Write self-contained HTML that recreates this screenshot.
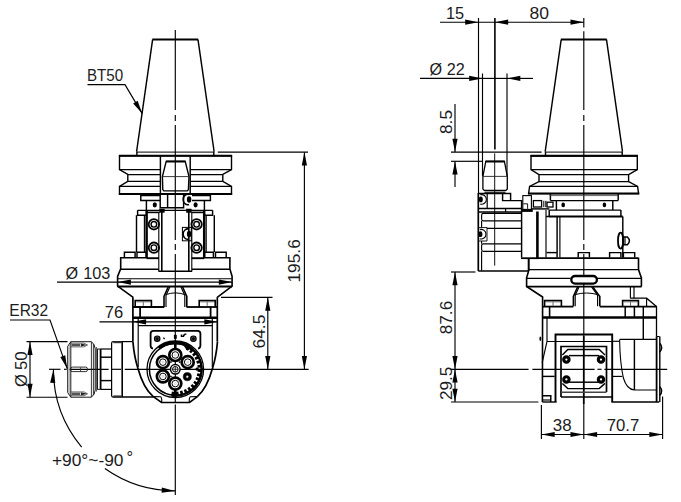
<!DOCTYPE html>
<html lang="en">
<head>
<meta charset="utf-8">
<title>Angle head dimensional drawing BT50 ER32</title>
<style>
html,body{margin:0;padding:0;background:#fff;}
body{width:681px;height:502px;overflow:hidden;font-family:"Liberation Sans",sans-serif;}
svg{display:block;}
svg text{font-family:"Liberation Sans",sans-serif;}
</style>
</head>
<body>
<svg width="681" height="502" viewBox="0 0 681 502" role="img" aria-label="Angle head dimensional drawing, front and side views">
<rect x="0" y="0" width="681" height="502" fill="#fff"/>
<g id="left-view">
<line x1="175.3" y1="30" x2="175.3" y2="110" stroke="#000" stroke-width="1.15" />
<line x1="175.3" y1="115" x2="175.3" y2="121" stroke="#000" stroke-width="1.15" />
<line x1="175.3" y1="125" x2="175.3" y2="240" stroke="#000" stroke-width="1.15" />
<line x1="175.3" y1="244" x2="175.3" y2="250" stroke="#000" stroke-width="1.15" />
<line x1="175.3" y1="254" x2="175.3" y2="402.5" stroke="#000" stroke-width="1.15" />
<line x1="175.3" y1="404.5" x2="175.3" y2="495" stroke="#000" stroke-width="1.15" />
<line x1="49" y1="369.3" x2="60.5" y2="369.3" stroke="#000" stroke-width="1.15" />
<line x1="64" y1="369.3" x2="66.8" y2="369.3" stroke="#000" stroke-width="1.15" />
<line x1="69.5" y1="369.3" x2="108.6" y2="369.3" stroke="#000" stroke-width="1.15" />
<line x1="111.8" y1="369.3" x2="121.2" y2="369.3" stroke="#000" stroke-width="1.15" />
<line x1="124.8" y1="369.3" x2="214" y2="369.3" stroke="#000" stroke-width="1.15" />
<line x1="152.3" y1="39.5" x2="198.2" y2="39.5" stroke="#000" stroke-width="2.0" />
<line x1="152.6" y1="39.6" x2="136.6" y2="151.5" stroke="#000" stroke-width="1.45" />
<line x1="198" y1="39.6" x2="214.1" y2="151.5" stroke="#000" stroke-width="1.45" />
<line x1="136.6" y1="152.1" x2="214.1" y2="152.1" stroke="#000" stroke-width="1.0" />
<line x1="136.9" y1="151.5" x2="136.9" y2="155.7" stroke="#000" stroke-width="1.45" />
<line x1="213.8" y1="151.5" x2="213.8" y2="155.7" stroke="#000" stroke-width="1.45" />
<path d="M119.5,155.9 L231.5,155.9 L231.5,169.5 L222.8,174.5 L222.8,181.4 L231.5,186.4 L231.5,194.2 L119.5,194.2 L119.5,186.4 L127.8,181.4 L127.8,174.5 L119.5,169.5 Z" stroke="#000" stroke-width="1.4" fill="none" />
<line x1="118.9" y1="155.8" x2="232.1" y2="155.8" stroke="#000" stroke-width="2.0" />
<line x1="118.9" y1="194.1" x2="232.1" y2="194.1" stroke="#000" stroke-width="2.0" />
<line x1="119.5" y1="169.5" x2="160.4" y2="169.5" stroke="#000" stroke-width="1.25" />
<line x1="190.2" y1="169.5" x2="231.5" y2="169.5" stroke="#000" stroke-width="1.25" />
<line x1="127.8" y1="174.5" x2="160.4" y2="174.5" stroke="#000" stroke-width="1.25" />
<line x1="190.2" y1="174.5" x2="222.8" y2="174.5" stroke="#000" stroke-width="1.25" />
<line x1="127.8" y1="181.4" x2="160.4" y2="181.4" stroke="#000" stroke-width="1.25" />
<line x1="190.2" y1="181.4" x2="222.8" y2="181.4" stroke="#000" stroke-width="1.25" />
<line x1="119.5" y1="186.4" x2="160.4" y2="186.4" stroke="#000" stroke-width="1.25" />
<line x1="190.2" y1="186.4" x2="231.5" y2="186.4" stroke="#000" stroke-width="1.25" />
<line x1="160.4" y1="155.9" x2="160.4" y2="193.8" stroke="#000" stroke-width="1.45" />
<line x1="190.2" y1="155.9" x2="190.2" y2="193.8" stroke="#000" stroke-width="1.45" />
<path d="M166.2,161.4 L185.2,161.4 L189,176.6 L188.4,189.6 L187.2,190.9 L163.8,190.9 L162.8,189.6 L162.4,176.6 Z" stroke="#000" stroke-width="1.4" fill="none" />
<line x1="166" y1="161.5" x2="185.4" y2="161.5" stroke="#000" stroke-width="2.0" />
<line x1="162.4" y1="176.6" x2="189" y2="176.6" stroke="#222" stroke-width="0.9" />
<path d="M160.2,195.4 L140.8,195.4 L140.8,200.5 L160.2,200.5" stroke="#000" stroke-width="1.45" fill="none" />
<path d="M192,195.4 L210.4,195.4 L210.4,200.5 L192,200.5" stroke="#000" stroke-width="1.45" fill="none" />
<line x1="146.4" y1="200.5" x2="146.4" y2="210" stroke="#000" stroke-width="1.45" />
<line x1="204.4" y1="200.5" x2="204.4" y2="210" stroke="#000" stroke-width="1.45" />
<path d="M160.2,193.8 L160.2,207.8 L183.6,207.8 L183.6,193.8" stroke="#000" stroke-width="1.45" fill="none" />
<line x1="167.6" y1="193.8" x2="167.6" y2="207.8" stroke="#000" stroke-width="1.45" />
<ellipse cx="154.8" cy="204.8" rx="2.1" ry="2.6" fill="#000"/>
<ellipse cx="195.6" cy="204.8" rx="2.1" ry="2.6" fill="#000"/>
<path d="M189.0,194.5 A4.6,5.2 0 1 0 189.0,204.5" stroke="#000" stroke-width="1.5" fill="none" />
<ellipse cx="189.1" cy="199.5" rx="2.2" ry="3.3" fill="#000"/>
<rect x="182.4" y="227.4" width="8.9" height="13.4" rx="0" stroke="#000" stroke-width="1.0" fill="none"/>
<path d="M189.0,229.1 A4.6,5.2 0 1 0 189.0,239.1" stroke="#000" stroke-width="1.5" fill="none" />
<ellipse cx="189.1" cy="234.1" rx="2.2" ry="3.3" fill="#000"/>
<line x1="137.6" y1="210.4" x2="212.6" y2="210.4" stroke="#000" stroke-width="1.3" />
<line x1="146.4" y1="212.4" x2="159.4" y2="212.4" stroke="#000" stroke-width="1.6" />
<line x1="191.2" y1="212.4" x2="204.4" y2="212.4" stroke="#000" stroke-width="1.6" />
<rect x="159.6" y="209" width="4.8" height="3.4" rx="0" stroke="#000" stroke-width="0.5" fill="#000"/>
<rect x="186.4" y="209" width="4.8" height="3.4" rx="0" stroke="#000" stroke-width="0.5" fill="#000"/>
<path d="M137.6,210.2 L137.6,215.2 L146.4,215.2" stroke="#000" stroke-width="1.45" fill="none" />
<path d="M212.6,210.2 L212.6,215.2 L204.2,215.2" stroke="#000" stroke-width="1.45" fill="none" />
<line x1="136.5" y1="215.2" x2="136.5" y2="252" stroke="#000" stroke-width="1.45" />
<line x1="214.3" y1="215.2" x2="214.3" y2="252" stroke="#000" stroke-width="1.45" />
<line x1="146.6" y1="210" x2="146.6" y2="258" stroke="#000" stroke-width="2.5" />
<line x1="204.2" y1="210" x2="204.2" y2="258" stroke="#000" stroke-width="2.5" />
<line x1="146.4" y1="258.2" x2="159" y2="258.2" stroke="#000" stroke-width="1.9" />
<line x1="191.6" y1="258.2" x2="204.4" y2="258.2" stroke="#000" stroke-width="1.9" />
<line x1="144.4" y1="216" x2="144.4" y2="252" stroke="#000" stroke-width="1.15" />
<line x1="206.2" y1="216" x2="206.2" y2="252" stroke="#000" stroke-width="1.15" />
<line x1="158.8" y1="212" x2="158.8" y2="271" stroke="#000" stroke-width="1.1" />
<line x1="161.8" y1="212" x2="161.8" y2="271" stroke="#000" stroke-width="1.6" />
<line x1="188.8" y1="212" x2="188.8" y2="271" stroke="#000" stroke-width="1.6" />
<line x1="191.8" y1="212" x2="191.8" y2="271" stroke="#000" stroke-width="1.1" />
<circle cx="153.9" cy="224.3" r="5.2" stroke="#000" stroke-width="1.8" fill="none"/>
<circle cx="153.9" cy="224.3" r="2.8" stroke="#000" stroke-width="1.4" fill="none"/>
<circle cx="153.9" cy="247.7" r="5.2" stroke="#000" stroke-width="1.8" fill="none"/>
<circle cx="153.9" cy="247.7" r="2.8" stroke="#000" stroke-width="1.4" fill="none"/>
<circle cx="196.6" cy="224.3" r="5.2" stroke="#000" stroke-width="1.8" fill="none"/>
<circle cx="196.6" cy="224.3" r="2.8" stroke="#000" stroke-width="1.4" fill="none"/>
<circle cx="196.6" cy="247.7" r="5.2" stroke="#000" stroke-width="1.8" fill="none"/>
<circle cx="196.6" cy="247.7" r="2.8" stroke="#000" stroke-width="1.4" fill="none"/>
<path d="M124.4,257.6 L124.4,252.2 L135.1,252.2 L135.1,257.6" stroke="#000" stroke-width="1.45" fill="none" />
<path d="M137,257.6 L137,252.2 L146.4,252.2 L146.4,257.6" stroke="#000" stroke-width="1.45" fill="none" />
<path d="M204.4,257.6 L204.4,252.2 L213.4,252.2 L213.4,257.6" stroke="#000" stroke-width="1.45" fill="none" />
<path d="M215.5,257.6 L215.5,252.2 L226.2,252.2 L226.2,257.6" stroke="#000" stroke-width="1.45" fill="none" />
<path d="M146.4,257.8 L120.7,257.8 L120.7,268.9 L117.6,276.4 L117.6,286.2 L133.2,297.4" stroke="#000" stroke-width="1.6" fill="none" />
<path d="M204.4,257.8 L229.9,257.8 L229.9,268.9 L232.1,276.4 L232.1,286.2 L217.2,297.4" stroke="#000" stroke-width="1.6" fill="none" />
<line x1="120.7" y1="269.2" x2="158.8" y2="269.2" stroke="#000" stroke-width="1.45" />
<line x1="191.8" y1="269.2" x2="229.9" y2="269.2" stroke="#000" stroke-width="1.45" />
<line x1="158.4" y1="271.3" x2="192.2" y2="271.3" stroke="#000" stroke-width="1.6" />
<line x1="118" y1="278.7" x2="231.8" y2="278.7" stroke="#000" stroke-width="1.15" />
<line x1="117.6" y1="286.5" x2="232.1" y2="286.5" stroke="#000" stroke-width="1.8" />
<path d="M168.2,287 L164,296.4 L164,306.9" stroke="#000" stroke-width="1.6" fill="none" />
<path d="M182.6,287 L186.8,296.4 L186.8,306.9" stroke="#000" stroke-width="1.6" fill="none" />
<path d="M169.8,287 L166,295.4 L166,306.9" stroke="#000" stroke-width="1.15" fill="none" />
<path d="M181,287 L184.8,295.4 L184.8,306.9" stroke="#000" stroke-width="1.15" fill="none" />
<path d="M166,294.6 Q175.4,291.2 184.8,294.6" stroke="#000" stroke-width="1.0" fill="none" />
<path d="M164.3,307 L132.8,307" stroke="#000" stroke-width="1.8" fill="none" />
<path d="M186.5,307 L217.6,307" stroke="#000" stroke-width="1.8" fill="none" />
<path d="M135.2,306.9 L135.2,300.6 L151.4,300.6 L151.4,306.9" stroke="#000" stroke-width="1.6" fill="none" />
<line x1="143.3" y1="301.6" x2="143.3" y2="305.8" stroke="#444" stroke-width="0.8" />
<line x1="136.39999999999998" y1="302.3" x2="150.20000000000002" y2="302.3" stroke="#888" stroke-width="0.5" />
<path d="M199.2,306.9 L199.2,300.6 L215.2,300.6 L215.2,306.9" stroke="#000" stroke-width="1.6" fill="none" />
<line x1="207.2" y1="301.6" x2="207.2" y2="305.8" stroke="#444" stroke-width="0.8" />
<line x1="200.39999999999998" y1="302.3" x2="214.0" y2="302.3" stroke="#888" stroke-width="0.5" />
<line x1="132.9" y1="297.2" x2="132.9" y2="341.6" stroke="#000" stroke-width="1.7" />
<line x1="217.3" y1="297.2" x2="217.3" y2="341.6" stroke="#000" stroke-width="1.7" />
<line x1="140.1" y1="306.9" x2="140.1" y2="317.4" stroke="#000" stroke-width="1.8" />
<line x1="210.6" y1="306.9" x2="210.6" y2="317.4" stroke="#000" stroke-width="1.8" />
<line x1="132.8" y1="317.7" x2="217.6" y2="317.7" stroke="#000" stroke-width="2.4" />
<line x1="138.2" y1="325.6" x2="212.4" y2="325.6" stroke="#000" stroke-width="1.15" />
<path d="M132.9,341.6 C133.8,352 135.6,361 137.8,368 C141,379.5 146,390.6 153.3,396.6" stroke="#000" stroke-width="1.7" fill="none" />
<path d="M217.5,341.6 C216.6,352 214.8,361 212.6,368 C209.4,379.5 204.4,390.6 197.3,396.6" stroke="#000" stroke-width="1.7" fill="none" />
<line x1="138.2" y1="318" x2="138.2" y2="367" stroke="#000" stroke-width="1.15" />
<line x1="212.3" y1="318" x2="212.3" y2="367" stroke="#000" stroke-width="1.15" />
<path d="M153.3,396.6 L161.5,402.5 L189.6,402.5 L197.3,396.6" stroke="#000" stroke-width="1.7" fill="none" />
<path d="M153.3,396.6 L160.6,396.8 Q162,397.5 161.7,402.3" stroke="#000" stroke-width="1.15" fill="none" />
<path d="M197.3,396.6 L190.4,396.8 Q189,397.5 189.3,402.3" stroke="#000" stroke-width="1.15" fill="none" />
<path d="M153,348.6 Q150.6,348.2 150.6,345.6 L150.6,333.6 Q150.6,330.8 153.4,330.8 L197.6,330.8 Q200.4,330.8 200.4,333.6 L200.4,345.6 Q200.4,348.2 198,348.6" stroke="#000" stroke-width="1.8" fill="none" />
<circle cx="157.2" cy="338.7" r="2.7" stroke="#000" stroke-width="1.2" fill="#666"/>
<circle cx="157.2" cy="338.7" r="1.2" stroke="#000" stroke-width="0.5" fill="#000"/>
<circle cx="193.4" cy="338.7" r="2.7" stroke="#000" stroke-width="1.2" fill="#666"/>
<circle cx="193.4" cy="338.7" r="1.2" stroke="#000" stroke-width="0.5" fill="#000"/>
<path d="M163.4,337.6 l1.2,1.6 M181.4,334.4 l0,2 l2,0 l0,-2 M183.6,336 l1.4,-1.8 l1.4,0" stroke="#000" stroke-width="1.3" fill="none" />
<rect x="174.1" y="335" width="2.5" height="3.8" rx="0" stroke="#000" stroke-width="0.4" fill="#000"/>
<circle cx="175.3" cy="369.3" r="28.3" stroke="#000" stroke-width="1.3" fill="none"/>
<circle cx="175.3" cy="369.3" r="25.9" stroke="#000" stroke-width="1.5" fill="none"/>
<path d="M158.92,348.34 A26.6,26.6 0 0 1 189.4,346.74" stroke="#000" stroke-width="3.0" fill="none" />
<path d="M186.85,347.58 A24.6,24.6 0 0 1 171.03,393.53" stroke="#000" stroke-width="4.4" fill="none" stroke-dasharray="2.7 1.7"/>
<path d="M188.7,346.09 A26.8,26.8 0 0 1 171.57,395.84" stroke="#000" stroke-width="1.6" fill="none" />
<path d="M184.8,345.3 l2.5,3.5 l3,-1 l1.5,3" stroke="#000" stroke-width="2.4" fill="none" />
<line x1="175.3" y1="340.8" x2="175.3" y2="348.8" stroke="#000" stroke-width="2.6" />
<line x1="175.3" y1="389.8" x2="175.3" y2="397.3" stroke="#000" stroke-width="2.6" />
<circle cx="175.3" cy="355.0" r="6.0" stroke="#000" stroke-width="2.7" fill="#fff"/>
<circle cx="175.3" cy="355.0" r="3.3" stroke="#000" stroke-width="1.0" fill="none"/>
<circle cx="175.3" cy="355.0" r="1.0" stroke="#aaa" stroke-width="0.5" fill="none"/>
<circle cx="187.7" cy="362.15" r="6.0" stroke="#000" stroke-width="2.7" fill="#fff"/>
<circle cx="187.7" cy="362.15" r="3.3" stroke="#000" stroke-width="1.0" fill="none"/>
<circle cx="187.7" cy="362.15" r="1.0" stroke="#aaa" stroke-width="0.5" fill="none"/>
<circle cx="175.3" cy="383.6" r="6.0" stroke="#000" stroke-width="2.7" fill="#fff"/>
<circle cx="175.3" cy="383.6" r="3.3" stroke="#000" stroke-width="1.0" fill="none"/>
<circle cx="175.3" cy="383.6" r="1.0" stroke="#aaa" stroke-width="0.5" fill="none"/>
<circle cx="162.9" cy="376.45" r="6.0" stroke="#000" stroke-width="2.7" fill="#fff"/>
<circle cx="162.9" cy="376.45" r="3.3" stroke="#000" stroke-width="1.0" fill="none"/>
<circle cx="162.9" cy="376.45" r="1.0" stroke="#aaa" stroke-width="0.5" fill="none"/>
<circle cx="162.9" cy="362.15" r="6.0" stroke="#000" stroke-width="2.7" fill="#fff"/>
<circle cx="162.9" cy="362.15" r="3.3" stroke="#000" stroke-width="1.0" fill="none"/>
<circle cx="162.9" cy="362.15" r="1.0" stroke="#aaa" stroke-width="0.5" fill="none"/>
<circle cx="175.3" cy="369.3" r="4.8" stroke="#000" stroke-width="1.5" fill="#fff"/>
<circle cx="175.3" cy="369.3" r="2.8" stroke="#000" stroke-width="1.0" fill="none"/>
<line x1="172.5" y1="369.3" x2="178.10000000000002" y2="369.3" stroke="#000" stroke-width="0.8" />
<line x1="175.3" y1="366.5" x2="175.3" y2="372.1" stroke="#000" stroke-width="0.8" />
<circle cx="187.3" cy="376.7" r="4.1" stroke="#000" stroke-width="0.5" fill="#000"/>
<circle cx="187.3" cy="376.7" r="1.0" stroke="#ddd" stroke-width="0.4" fill="#eee"/>
<circle cx="197.1" cy="369.1" r="1.5" stroke="#000" stroke-width="0.3" fill="#000"/>
<circle cx="170.9" cy="362.1" r="0.8" stroke="#000" stroke-width="0.3" fill="#000"/>
<circle cx="179.7" cy="362.1" r="0.8" stroke="#000" stroke-width="0.3" fill="#000"/>
<circle cx="170.9" cy="376.5" r="0.8" stroke="#000" stroke-width="0.3" fill="#000"/>
<path d="M132.8,341.6 L112.6,341.6" stroke="#000" stroke-width="1.2" fill="none" />
<path d="M153.3,397 L112.6,397" stroke="#000" stroke-width="1.6" fill="none" />
<line x1="122.2" y1="341.6" x2="122.2" y2="397" stroke="#000" stroke-width="1.6" />
<path d="M112.8,341.6 Q111.6,341.8 111.6,343.4 L111.6,395.2 Q111.6,396.8 112.8,397" stroke="#000" stroke-width="1.2" fill="none" />
<line x1="113.4" y1="342.2" x2="121.4" y2="342.2" stroke="#333" stroke-width="2.0" />
<line x1="113.4" y1="396.4" x2="121.4" y2="396.4" stroke="#333" stroke-width="2.0" />
<line x1="96.3" y1="347" x2="96.3" y2="391.6" stroke="#222" stroke-width="0.9" />
<line x1="100.4" y1="349" x2="111.6" y2="349" stroke="#000" stroke-width="1.2" />
<line x1="100.4" y1="389.4" x2="111.6" y2="389.4" stroke="#000" stroke-width="1.2" />
<line x1="100.4" y1="357.2" x2="111.6" y2="357.2" stroke="#000" stroke-width="1.45" />
<line x1="100.4" y1="380.6" x2="111.6" y2="380.6" stroke="#000" stroke-width="1.45" />
<line x1="100.6" y1="349" x2="100.6" y2="389.4" stroke="#000" stroke-width="1.8" />
<line x1="97.5" y1="348.8" x2="97.5" y2="389.6" stroke="#000" stroke-width="0.9" />
<line x1="97.5" y1="349" x2="100.4" y2="349" stroke="#000" stroke-width="0.9" />
<line x1="97.5" y1="389.4" x2="100.4" y2="389.4" stroke="#000" stroke-width="0.9" />
<path d="M70.8,341.7 L91.4,341.7 Q94.8,344 95.2,348.8 L95.2,390 Q94.8,394.8 91.4,397.2 L70.8,397.2 L67.7,392.5 L67.7,346.4 Z" stroke="#1a1a1a" stroke-width="1.0" fill="none" />
<line x1="70.8" y1="341.7" x2="70.8" y2="397.2" stroke="#1a1a1a" stroke-width="1.0" />
<line x1="91.4" y1="341.7" x2="91.4" y2="397.2" stroke="#222" stroke-width="0.9" />
<line x1="93.4" y1="344" x2="93.4" y2="395" stroke="#222" stroke-width="0.9" />
<line x1="69.2" y1="344.5" x2="69.2" y2="394.5" stroke="#555" stroke-width="0.6" />
<line x1="71.5" y1="345.0" x2="80" y2="345.0" stroke="#555" stroke-width="2.4" />
<polygon points="80.8,343.4 87.4,345.0 80.8,346.6" fill="#222"/>
<path d="M70.8,343.1 L84,343.1 L87.6,345.0 L84,346.9 L70.8,346.9" stroke="#333" stroke-width="0.7" fill="none" />
<line x1="71.5" y1="393.8" x2="80" y2="393.8" stroke="#555" stroke-width="2.4" />
<polygon points="80.8,392.2 87.4,393.8 80.8,395.40000000000003" fill="#222"/>
<path d="M70.8,391.90000000000003 L84,391.90000000000003 L87.6,393.8 L84,395.7 L70.8,395.7" stroke="#333" stroke-width="0.7" fill="none" />
<rect x="70.6" y="367.1" width="16.8" height="4.5" rx="1.6" stroke="#1a1a1a" stroke-width="0.9" fill="none"/>
<line x1="80.6" y1="367.4" x2="80.6" y2="371.4" stroke="#333" stroke-width="0.9" />
</g>
<g id="left-dims">
<text x="87" y="80.8" font-size="16.4" text-anchor="start" fill="#1b1b22" textLength="36.2" lengthAdjust="spacingAndGlyphs">BT50</text>
<path d="M87.5,84.6 L125,84.6 L142.2,113.6" stroke="#000" stroke-width="1.15" fill="none" />
<polygon points="142.20,113.60 133.17,103.49 137.65,100.84" fill="#000"/>
<text x="9.3" y="315.9" font-size="16.2" text-anchor="start" fill="#1b1b22" textLength="38.8" lengthAdjust="spacingAndGlyphs">ER32</text>
<path d="M10,320 L50,320 L67.2,368.6" stroke="#000" stroke-width="1.15" fill="none" />
<polygon points="67.20,368.60 60.31,356.93 65.21,355.19" fill="#000"/>
<line x1="217.8" y1="152.1" x2="308" y2="152.1" stroke="#000" stroke-width="1.15" />
<line x1="212" y1="369.3" x2="308.6" y2="369.3" stroke="#000" stroke-width="1.15" />
<line x1="304.4" y1="152.4" x2="304.4" y2="369.3" stroke="#000" stroke-width="1.15" />
<polygon points="304.40,152.10 307.00,165.40 301.80,165.40" fill="#000"/>
<polygon points="304.40,369.30 301.80,356.00 307.00,356.00" fill="#000"/>
<text x="300" y="282.6" font-size="16.4" text-anchor="start" fill="#1b1b22" transform="rotate(-90 300 282.6)" textLength="43.4" lengthAdjust="spacingAndGlyphs">195.6</text>
<line x1="221" y1="297.4" x2="272.5" y2="297.4" stroke="#000" stroke-width="1.15" />
<line x1="267.8" y1="297.6" x2="267.8" y2="369.3" stroke="#000" stroke-width="1.15" />
<polygon points="267.80,297.50 270.40,310.80 265.20,310.80" fill="#000"/>
<polygon points="267.80,369.30 265.20,356.00 270.40,356.00" fill="#000"/>
<text x="265" y="348.5" font-size="16.4" text-anchor="start" fill="#1b1b22" transform="rotate(-90 265 348.5)" textLength="33.8" lengthAdjust="spacingAndGlyphs">64.5</text>
<line x1="57" y1="282.1" x2="232.1" y2="282.1" stroke="#000" stroke-width="1.15" />
<polygon points="117.60,282.10 130.90,279.50 130.90,284.70" fill="#000"/>
<polygon points="232.10,282.10 218.80,284.70 218.80,279.50" fill="#000"/>
<text x="65.4" y="278.8" font-size="16.2" fill="#1b1b22">Ø<tspan x="83.2" textLength="27.2" lengthAdjust="spacingAndGlyphs">103</tspan></text>
<line x1="99.5" y1="321.8" x2="217.6" y2="321.8" stroke="#000" stroke-width="1.15" />
<polygon points="132.80,321.80 146.10,319.20 146.10,324.40" fill="#000"/>
<polygon points="217.60,321.80 204.30,324.40 204.30,319.20" fill="#000"/>
<text x="104.8" y="318.4" font-size="16.4" text-anchor="start" fill="#1b1b22" textLength="18.4" lengthAdjust="spacingAndGlyphs">76</text>
<line x1="26.5" y1="341.6" x2="67.5" y2="341.6" stroke="#000" stroke-width="1.15" />
<line x1="26.5" y1="397.2" x2="67.5" y2="397.2" stroke="#000" stroke-width="1.15" />
<line x1="30" y1="341.6" x2="30" y2="397.2" stroke="#000" stroke-width="1.15" />
<polygon points="30.00,341.70 32.60,355.00 27.40,355.00" fill="#000"/>
<polygon points="30.00,397.10 27.40,383.80 32.60,383.80" fill="#000"/>
<text x="26.6" y="370" font-size="16.6" fill="#1b1b22" transform="rotate(-90 26.6 370)"><tspan x="9.6">Ø</tspan><tspan x="26.6" textLength="18.6" lengthAdjust="spacingAndGlyphs">50</tspan></text>
<path d="M53.40,369.30 A121.9,121.6 0 0 0 81.65,447.14" stroke="#000" stroke-width="1.15" fill="none" />
<path d="M104.86,468.54 A121.9,121.6 0 0 0 175.30,490.90" stroke="#000" stroke-width="1.15" fill="none" />
<polygon points="53.40,369.60 55.30,383.02 50.11,382.75" fill="#000"/>
<polygon points="175.00,490.90 161.58,492.80 161.85,487.61" fill="#000"/>
<text x="51.9" y="465.8" font-size="16.5" text-anchor="start" fill="#1b1b22" textLength="71.6" lengthAdjust="spacingAndGlyphs">+90°~-90</text>
<text x="126.6" y="463.2" font-size="16.5" text-anchor="start" fill="#1b1b22">°</text>
</g>
<g id="right-view">
<line x1="583.8" y1="18" x2="583.8" y2="27.6" stroke="#000" stroke-width="1.15" />
<line x1="583.8" y1="31.2" x2="583.8" y2="110" stroke="#000" stroke-width="1.15" />
<line x1="583.8" y1="115" x2="583.8" y2="121" stroke="#000" stroke-width="1.15" />
<line x1="583.8" y1="125" x2="583.8" y2="240" stroke="#000" stroke-width="1.15" />
<line x1="583.8" y1="244" x2="583.8" y2="250" stroke="#000" stroke-width="1.15" />
<line x1="583.8" y1="254" x2="583.8" y2="336" stroke="#000" stroke-width="1.15" />
<line x1="583.8" y1="336" x2="583.8" y2="404" stroke="#000" stroke-width="1.8" />
<line x1="583.8" y1="404" x2="583.8" y2="439" stroke="#000" stroke-width="1.15" />
<line x1="450.5" y1="369.3" x2="528.6" y2="369.3" stroke="#000" stroke-width="1.15" />
<line x1="532.4" y1="369.3" x2="594.6" y2="369.3" stroke="#000" stroke-width="1.15" />
<line x1="597.4" y1="369.3" x2="601.6" y2="369.3" stroke="#000" stroke-width="1.15" />
<line x1="604.4" y1="369.3" x2="667.2" y2="369.3" stroke="#000" stroke-width="1.15" />
<line x1="478.5" y1="18" x2="478.5" y2="193" stroke="#000" stroke-width="1.15" />
<line x1="494.9" y1="18" x2="494.9" y2="149.6" stroke="#000" stroke-width="1.6" />
<line x1="494.7" y1="153.4" x2="494.7" y2="265.6" stroke="#111" stroke-width="1.0" />
<line x1="487.2" y1="193.4" x2="487.2" y2="208.4" stroke="#000" stroke-width="1.2" />
<line x1="482.5" y1="73.5" x2="482.5" y2="176" stroke="#000" stroke-width="1.15" />
<line x1="507" y1="73.5" x2="507" y2="176" stroke="#000" stroke-width="1.15" />
<line x1="560.9" y1="39.5" x2="606.8" y2="39.5" stroke="#000" stroke-width="2.0" />
<line x1="561.2" y1="39.6" x2="545.2" y2="151.5" stroke="#000" stroke-width="1.45" />
<line x1="606.5" y1="39.6" x2="622.5" y2="151.5" stroke="#000" stroke-width="1.45" />
<line x1="545.2" y1="152.1" x2="622.5" y2="152.1" stroke="#000" stroke-width="1.0" />
<line x1="545.5" y1="151.5" x2="545.5" y2="156" stroke="#000" stroke-width="1.45" />
<line x1="622.2" y1="151.5" x2="622.2" y2="156" stroke="#000" stroke-width="1.45" />
<path d="M531,156 L637.3,156 L637.3,169.5 L628.6,174.6 L628.6,181.5 L637.6,186.4 L638.6,193.6 L528.6,193.6 L529.6,186.4 L539,181.5 L539,174.6 L531,169.5 Z" stroke="#000" stroke-width="1.4" fill="none" />
<line x1="531" y1="169.5" x2="637.3" y2="169.5" stroke="#000" stroke-width="1.25" />
<line x1="539" y1="174.6" x2="628.6" y2="174.6" stroke="#000" stroke-width="1.25" />
<line x1="539" y1="181.5" x2="628.6" y2="181.5" stroke="#000" stroke-width="1.25" />
<line x1="529.6" y1="186.4" x2="637.6" y2="186.4" stroke="#000" stroke-width="1.25" />
<line x1="530.4" y1="155.8" x2="637.9" y2="155.8" stroke="#000" stroke-width="2.0" />
<line x1="528" y1="193.5" x2="639.2" y2="193.5" stroke="#000" stroke-width="2.0" />
<path d="M550.4,193.6 L550.4,200.6 M618.2,193.6 L618.2,200.6" stroke="#000" stroke-width="1.45" fill="none" />
<line x1="550.4" y1="200.6" x2="618.2" y2="200.6" stroke="#000" stroke-width="1.45" />
<line x1="549.6" y1="195.6" x2="618.2" y2="195.6" stroke="#444" stroke-width="0.8" />
<path d="M556.4,200.6 L556.4,210 M612.8,200.6 L612.8,210" stroke="#000" stroke-width="1.45" fill="none" />
<line x1="549.4" y1="210.1" x2="620.9" y2="210.1" stroke="#000" stroke-width="1.45" />
<line x1="620.9" y1="210.1" x2="620.9" y2="216.4" stroke="#000" stroke-width="1.45" />
<line x1="549.2" y1="216.5" x2="622.8" y2="216.5" stroke="#000" stroke-width="2.2" />
<ellipse cx="563.2" cy="204.9" rx="1.8" ry="2.3" fill="#000"/>
<ellipse cx="604.4" cy="204.9" rx="1.8" ry="2.3" fill="#000"/>
<path d="M485.8,161.4 L504.4,161.4 L507.3,176.4 L507.3,189 L506,190.4 L484.2,190.4 L482.9,189 L482.9,176.4 Z" stroke="#000" stroke-width="1.3" fill="none" />
<line x1="485.6" y1="161.5" x2="504.6" y2="161.5" stroke="#000" stroke-width="2.0" />
<line x1="482.9" y1="176.4" x2="507.3" y2="176.4" stroke="#222" stroke-width="0.9" />
<line x1="484.5" y1="192.2" x2="505.5" y2="192.2" stroke="#000" stroke-width="1.15" />
<line x1="478.3" y1="193" x2="478.3" y2="271" stroke="#000" stroke-width="1.7" />
<path d="M478.3,193.4 L510.6,193.4 L510.6,200.6" stroke="#000" stroke-width="1.45" fill="none" />
<path d="M502.6,193.4 L502.6,200.6 L521.6,200.6 L521.6,257.6" stroke="#000" stroke-width="1.45" fill="none" />
<line x1="478.3" y1="208.4" x2="521.6" y2="208.4" stroke="#000" stroke-width="1.45" />
<line x1="478.3" y1="212" x2="521.6" y2="212" stroke="#000" stroke-width="1.45" />
<line x1="505.6" y1="208.4" x2="505.6" y2="212" stroke="#000" stroke-width="1.2" />
<path d="M480.20000000000005,194.8 A4.8,4.8 0 1 1 480.20000000000005,204.0" stroke="#000" stroke-width="1.1" fill="none" />
<ellipse cx="480.8" cy="199.4" rx="2.0" ry="2.9" fill="#000"/>
<path d="M478.3,227.6 L487,227.6 L487,241 L478.3,241" stroke="#000" stroke-width="0.9" fill="none" />
<path d="M479.8,229.6 A4.8,4.8 0 1 1 479.8,238.79999999999998" stroke="#000" stroke-width="1.1" fill="none" />
<ellipse cx="480.4" cy="234.2" rx="2.0" ry="2.9" fill="#000"/>
<path d="M521.6,213.3 L483.4,213.3 Q481.6,213.3 481.6,215.2 L481.6,219 Q481.6,220.8 483.4,220.8 L521.6,220.8" stroke="#000" stroke-width="1.15" fill="none" />
<path d="M521.6,228.3 L487,228.3" stroke="#000" stroke-width="1.15" fill="none" />
<path d="M521.6,243.8 L483.4,243.8 Q481.6,243.8 481.6,245.6 L481.6,249.4 Q481.6,251.3 483.4,251.3 L521.6,251.3" stroke="#000" stroke-width="1.15" fill="none" />
<path d="M481.6,220.8 L481.6,227.6 M481.6,241 L481.6,243.8 M481.6,251.3 L481.6,270.8" stroke="#000" stroke-width="1.15" fill="none" />
<line x1="478.3" y1="270.9" x2="528.4" y2="270.9" stroke="#000" stroke-width="1.5" />
<path d="M521,258.2 L539,258.2" stroke="#000" stroke-width="1.8" fill="none" />
<line x1="528.7" y1="258.2" x2="528.7" y2="271" stroke="#000" stroke-width="2.0" />
<rect x="522.8" y="195.6" width="8.6" height="13.8" rx="0" stroke="#000" stroke-width="1.1" fill="none"/>
<path d="M523.4,203.8 L527.6,203.8 L527.6,208.8" stroke="#000" stroke-width="0.9" fill="none" />
<line x1="521.6" y1="210.6" x2="532.8" y2="210.6" stroke="#000" stroke-width="2.6" />
<rect x="533.4" y="200.6" width="8.2" height="6.4" rx="0" stroke="#000" stroke-width="1.3" fill="none"/>
<line x1="543.8" y1="200.8" x2="543.8" y2="207.2" stroke="#000" stroke-width="1.0" />
<line x1="545.8" y1="200.8" x2="545.8" y2="207.2" stroke="#000" stroke-width="1.0" />
<rect x="547" y="202.2" width="6" height="4.8" rx="0" stroke="#000" stroke-width="1.3" fill="none"/>
<line x1="531.4" y1="208.9" x2="549.4" y2="208.9" stroke="#000" stroke-width="1.45" />
<line x1="537.4" y1="211.5" x2="537.4" y2="258" stroke="#000" stroke-width="2.6" />
<line x1="546" y1="210" x2="546" y2="257.6" stroke="#000" stroke-width="1.15" />
<path d="M546,216.4 L549.2,216.4 L549.2,210" stroke="#000" stroke-width="1.45" fill="none" />
<line x1="557.1" y1="216.4" x2="557.1" y2="257.6" stroke="#000" stroke-width="1.45" />
<line x1="559.9" y1="216.4" x2="559.9" y2="257.6" stroke="#000" stroke-width="1.15" />
<line x1="622.8" y1="216.4" x2="622.8" y2="257.6" stroke="#000" stroke-width="1.45" />
<line x1="546.6" y1="252.6" x2="556.9" y2="252.6" stroke="#000" stroke-width="1.45" />
<ellipse cx="620.6" cy="240.7" rx="2.6" ry="8" stroke="#000" stroke-width="1.8" fill="none"/>
<path d="M622.8,237 L627.4,237 Q631.4,240.8 627.4,244.8 L622.8,244.8" stroke="#000" stroke-width="1.5" fill="none" />
<line x1="625" y1="237" x2="625" y2="244.8" stroke="#000" stroke-width="1.2" />
<path d="M578.2,257.6 L578.2,252.6 L589.4,252.6 L589.4,257.6" stroke="#000" stroke-width="1.45" fill="none" />
<path d="M609.6,257.6 L609.6,252.6 L620.9,252.6 L620.9,257.6" stroke="#000" stroke-width="1.45" fill="none" />
<path d="M623.4,257.6 L623.4,252.6 L634.7,252.6 L634.7,257.6" stroke="#000" stroke-width="1.45" fill="none" />
<line x1="539" y1="258.2" x2="638.5" y2="258.2" stroke="#000" stroke-width="1.8" />
<path d="M528.6,271 L526.6,277.8 L526.6,286.5 L542.6,297 L542.4,402" stroke="#000" stroke-width="1.6" fill="none" />
<path d="M638.5,257.8 L638.5,269.5 L641.4,278 L641.4,286.5" stroke="#000" stroke-width="1.6" fill="none" />
<line x1="528.7" y1="269.6" x2="638.5" y2="269.6" stroke="#000" stroke-width="1.45" />
<line x1="526.6" y1="278.4" x2="570.7" y2="278.4" stroke="#000" stroke-width="1.15" />
<line x1="597.1" y1="278.4" x2="641.6" y2="278.4" stroke="#000" stroke-width="1.15" />
<line x1="526.6" y1="286.6" x2="641.6" y2="286.6" stroke="#000" stroke-width="1.7" />
<rect x="571.3" y="276" width="25.6" height="7.6" rx="3.8" stroke="#000" stroke-width="2.3" fill="#fff"/>
<path d="M577.6,287 L573.4,296.4 L573.4,306.3" stroke="#000" stroke-width="1.6" fill="none" />
<path d="M592.8,287 L599.8,296.4 L599.8,306.3" stroke="#000" stroke-width="1.6" fill="none" />
<path d="M579,287 L575.2,295.4 L575.2,306.3" stroke="#000" stroke-width="1.15" fill="none" />
<path d="M591.6,287 L597.6,295.4 L597.6,306.3" stroke="#000" stroke-width="1.15" fill="none" />
<path d="M575.2,294.6 Q586.4,291.4 597.6,294.6" stroke="#000" stroke-width="1.0" fill="none" />
<line x1="542.6" y1="306.6" x2="573.4" y2="306.6" stroke="#000" stroke-width="1.8" />
<line x1="599.8" y1="306.6" x2="656.5" y2="306.6" stroke="#000" stroke-width="1.8" />
<path d="M544.6,306.4 L544.6,300.6 L561.4,300.6 L561.4,306.4" stroke="#000" stroke-width="1.6" fill="none" />
<line x1="553.0" y1="301.6" x2="553.0" y2="305.8" stroke="#444" stroke-width="0.8" />
<line x1="545.8000000000001" y1="302.3" x2="560.1999999999999" y2="302.3" stroke="#888" stroke-width="0.5" />
<path d="M622.6,306.4 L622.6,300.6 L638.4,300.6 L638.4,306.4" stroke="#000" stroke-width="1.6" fill="none" />
<line x1="630.5" y1="301.6" x2="630.5" y2="305.8" stroke="#444" stroke-width="0.8" />
<line x1="623.8000000000001" y1="302.3" x2="637.1999999999999" y2="302.3" stroke="#888" stroke-width="0.5" />
<line x1="549.6" y1="306.4" x2="549.6" y2="317" stroke="#000" stroke-width="1.6" />
<line x1="625.2" y1="306.4" x2="625.2" y2="317" stroke="#000" stroke-width="1.5" />
<line x1="634.4" y1="306.4" x2="634.4" y2="317" stroke="#000" stroke-width="1.5" />
<line x1="630.4" y1="286.6" x2="630.4" y2="298.2" stroke="#000" stroke-width="1.15" />
<line x1="634" y1="286.6" x2="634" y2="298.2" stroke="#000" stroke-width="1.15" />
<path d="M630.4,298.2 L646.6,298.2 L656.5,306.6 L656.5,336.5" stroke="#000" stroke-width="1.3" fill="none" />
<line x1="646.6" y1="298.2" x2="646.6" y2="306.4" stroke="#000" stroke-width="1.15" />
<line x1="542.4" y1="317.5" x2="656.5" y2="317.5" stroke="#000" stroke-width="2.3" />
<line x1="547" y1="318" x2="547" y2="341.3" stroke="#000" stroke-width="1.15" />
<line x1="547" y1="341.3" x2="542.2" y2="362.6" stroke="#000" stroke-width="1.15" />
<line x1="643.3" y1="306.4" x2="643.3" y2="339.4" stroke="#000" stroke-width="1.45" />
<ellipse cx="540.3" cy="338.8" rx="0.9" ry="2.2" fill="#000"/>
<path d="M555.5,402 L555.5,334.5 L612.2,334.5 L612.2,402" stroke="#000" stroke-width="1.9" fill="none" />
<line x1="547" y1="341.5" x2="612.4" y2="341.5" stroke="#000" stroke-width="1.2" />
<path d="M561,397 L561,346.5 L606.5,346.5 L606.5,392" stroke="#000" stroke-width="1.7" fill="none" />
<line x1="561" y1="392.2" x2="606.5" y2="392.2" stroke="#444" stroke-width="1.4" />
<line x1="561" y1="397" x2="612.4" y2="397" stroke="#000" stroke-width="1.45" />
<path d="M562.4,355 L567.8,349.4 L599.2,349.4 L605,355" stroke="#000" stroke-width="1.45" fill="none" />
<path d="M562.4,383.4 L567.8,388.6 L599.2,388.6 L605,383.4" stroke="#000" stroke-width="1.45" fill="none" />
<line x1="569" y1="355.6" x2="599" y2="355.6" stroke="#000" stroke-width="1.45" />
<line x1="569" y1="382.2" x2="599" y2="382.2" stroke="#000" stroke-width="1.45" />
<circle cx="566.4" cy="359.6" r="2.7" stroke="#000" stroke-width="3.1" fill="none"/>
<circle cx="566.4" cy="379.4" r="2.7" stroke="#000" stroke-width="3.1" fill="none"/>
<circle cx="601" cy="359.6" r="2.7" stroke="#000" stroke-width="3.1" fill="none"/>
<circle cx="601" cy="379.4" r="2.7" stroke="#000" stroke-width="3.1" fill="none"/>
<line x1="542.4" y1="376.4" x2="554.6" y2="376.4" stroke="#000" stroke-width="1.45" />
<line x1="612.4" y1="341.3" x2="619.5" y2="341.3" stroke="#000" stroke-width="1.15" />
<line x1="612.4" y1="376.4" x2="622.4" y2="376.4" stroke="#000" stroke-width="1.15" />
<path d="M542.4,395.8 L550.8,395.8 L550.8,402" stroke="#000" stroke-width="1.45" fill="none" />
<line x1="542.4" y1="400" x2="550.8" y2="400" stroke="#000" stroke-width="1.15" />
<line x1="542.4" y1="402" x2="556.6" y2="402" stroke="#000" stroke-width="1.4" />
<line x1="611.4" y1="402" x2="659.2" y2="402" stroke="#000" stroke-width="1.7" />
<path d="M619.6,339.4 L656.5,339.4" stroke="#000" stroke-width="1.3" fill="none" />
<path d="M619.6,339.4 C619.8,352 620.2,364 623.4,378 C625.6,385.6 629.4,389.6 634.4,390 L656.5,390" stroke="#000" stroke-width="1.1" fill="none" />
<line x1="634.4" y1="339.4" x2="634.4" y2="390" stroke="#000" stroke-width="1.45" />
<line x1="656.6" y1="336.5" x2="656.6" y2="402" stroke="#000" stroke-width="1.8" />
<line x1="659.8" y1="336.5" x2="659.8" y2="402" stroke="#000" stroke-width="1.4" />
<line x1="656.6" y1="336.5" x2="659.6" y2="336.5" stroke="#000" stroke-width="1.0" />
<path d="M659.8,343.2 Q663.4,347.6 659.8,352" stroke="#000" stroke-width="1.5" fill="none" />
<path d="M659.8,386.6 Q663.4,391 659.8,395.4" stroke="#000" stroke-width="1.5" fill="none" />
</g>
<g id="right-dims">
<line x1="440" y1="22.2" x2="583.8" y2="22.2" stroke="#000" stroke-width="1.15" />
<polygon points="478.50,22.20 465.20,24.80 465.20,19.60" fill="#000"/>
<polygon points="494.90,22.20 508.20,19.60 508.20,24.80" fill="#000"/>
<polygon points="583.80,22.20 570.50,24.80 570.50,19.60" fill="#000"/>
<text x="446" y="19" font-size="16.2" text-anchor="start" fill="#1b1b22" textLength="18.2" lengthAdjust="spacingAndGlyphs">15</text>
<text x="529.6" y="19" font-size="16.2" text-anchor="start" fill="#1b1b22" textLength="19.5" lengthAdjust="spacingAndGlyphs">80</text>
<line x1="420" y1="78.4" x2="482.5" y2="78.4" stroke="#000" stroke-width="1.15" />
<line x1="507" y1="78.4" x2="533" y2="78.4" stroke="#000" stroke-width="1.15" />
<line x1="482.5" y1="78.4" x2="507" y2="78.4" stroke="#000" stroke-width="1.15" />
<polygon points="482.50,78.40 469.20,81.00 469.20,75.80" fill="#000"/>
<polygon points="507.00,78.40 520.30,75.80 520.30,81.00" fill="#000"/>
<text x="429.6" y="75" font-size="16.2" fill="#1b1b22">Ø<tspan x="446.8" textLength="18" lengthAdjust="spacingAndGlyphs">22</tspan></text>
<line x1="451" y1="152.1" x2="541.6" y2="152.1" stroke="#000" stroke-width="1.15" />
<line x1="451" y1="161.3" x2="482.6" y2="161.3" stroke="#000" stroke-width="1.15" />
<line x1="455" y1="104" x2="455" y2="152.1" stroke="#000" stroke-width="1.15" />
<line x1="455" y1="161.3" x2="455" y2="187" stroke="#000" stroke-width="1.15" />
<polygon points="455.00,152.10 452.40,138.80 457.60,138.80" fill="#000"/>
<polygon points="455.00,161.30 457.60,174.60 452.40,174.60" fill="#000"/>
<text x="452" y="134" font-size="16.2" text-anchor="start" fill="#1b1b22" transform="rotate(-90 452 134)" textLength="24" lengthAdjust="spacingAndGlyphs">8.5</text>
<line x1="451" y1="272" x2="475.5" y2="272" stroke="#000" stroke-width="1.15" />
<line x1="455" y1="272" x2="455" y2="402" stroke="#000" stroke-width="1.15" />
<polygon points="455.00,272.00 457.60,285.30 452.40,285.30" fill="#000"/>
<polygon points="455.00,369.30 452.40,356.00 457.60,356.00" fill="#000"/>
<text x="452.2" y="334.2" font-size="16.2" text-anchor="start" fill="#1b1b22" transform="rotate(-90 452.2 334.2)" textLength="33.4" lengthAdjust="spacingAndGlyphs">87.6</text>
<line x1="451" y1="402" x2="538.4" y2="402" stroke="#000" stroke-width="1.15" />
<polygon points="455.00,369.30 457.60,382.60 452.40,382.60" fill="#000"/>
<polygon points="455.00,402.00 452.40,388.70 457.60,388.70" fill="#000"/>
<text x="452.2" y="400" font-size="16.2" text-anchor="start" fill="#1b1b22" transform="rotate(-90 452.2 400)" textLength="33.4" lengthAdjust="spacingAndGlyphs">29.5</text>
<line x1="541.4" y1="405" x2="541.4" y2="439" stroke="#000" stroke-width="1.15" />
<line x1="662.6" y1="396.5" x2="662.6" y2="439" stroke="#000" stroke-width="1.15" />
<line x1="541.4" y1="434.5" x2="662.6" y2="434.5" stroke="#000" stroke-width="1.15" />
<polygon points="541.40,434.50 554.70,431.90 554.70,437.10" fill="#000"/>
<polygon points="583.80,434.50 570.50,437.10 570.50,431.90" fill="#000"/>
<polygon points="583.80,434.50 597.10,431.90 597.10,437.10" fill="#000"/>
<polygon points="662.60,434.50 649.30,437.10 649.30,431.90" fill="#000"/>
<text x="552.8" y="430.8" font-size="16.2" text-anchor="start" fill="#1b1b22" textLength="18.8" lengthAdjust="spacingAndGlyphs">38</text>
<text x="606.8" y="430.8" font-size="16.2" text-anchor="start" fill="#1b1b22" textLength="32.5" lengthAdjust="spacingAndGlyphs">70.7</text>
</g>
</svg>
</body>
</html>
